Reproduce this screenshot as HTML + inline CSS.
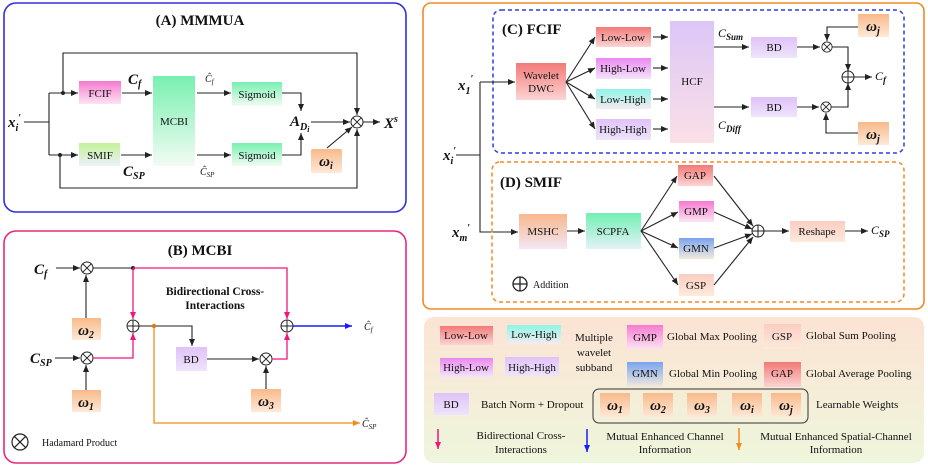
<!DOCTYPE html>
<html><head><meta charset="utf-8"><style>
html,body{margin:0;padding:0;background:#fff}
svg{display:block}
text{font-family:"Liberation Serif",serif;fill:#111}
.t{font-size:11px}
.b{font-weight:bold}
.w{font-weight:bold;font-style:italic;font-size:15px}
.ln{stroke:#222;stroke-width:1.1;fill:none}
</style></head><body>
<svg width="928" height="467" viewBox="0 0 928 467" xmlns="http://www.w3.org/2000/svg">
<defs>
<marker id="ar" markerWidth="8" markerHeight="8" refX="7" refY="4" orient="auto" markerUnits="userSpaceOnUse"><path d="M0,1 L7,4 L0,7 Z" fill="#222"/></marker>
<marker id="ap" markerWidth="8" markerHeight="8" refX="7" refY="4" orient="auto" markerUnits="userSpaceOnUse"><path d="M0,1 L7,4 L0,7 Z" fill="#f0157f"/></marker>
<marker id="ab" markerWidth="8" markerHeight="8" refX="7" refY="4" orient="auto" markerUnits="userSpaceOnUse"><path d="M0,1 L7,4 L0,7 Z" fill="#1a1aff"/></marker>
<marker id="ao" markerWidth="8" markerHeight="8" refX="7" refY="4" orient="auto" markerUnits="userSpaceOnUse"><path d="M0,1 L7,4 L0,7 Z" fill="#f58a1f"/></marker>
<linearGradient id="gPink" x1="0" y1="0" x2="0" y2="1"><stop offset="0" stop-color="#f57ad0"/><stop offset="1" stop-color="#fde3f3"/></linearGradient>
<linearGradient id="gGreen" x1="0" y1="0" x2="0" y2="1"><stop offset="0" stop-color="#78f0b0"/><stop offset="1" stop-color="#f3fbf4"/></linearGradient>
<linearGradient id="gLime" x1="0" y1="0" x2="0" y2="1"><stop offset="0" stop-color="#c2f296"/><stop offset="1" stop-color="#eef0fb"/></linearGradient>
<linearGradient id="gOr" x1="0" y1="0" x2="0" y2="1"><stop offset="0" stop-color="#f9b98a"/><stop offset="1" stop-color="#fde9d8"/></linearGradient>
<linearGradient id="gRed" x1="0" y1="0" x2="0" y2="1"><stop offset="0" stop-color="#f27a78"/><stop offset="1" stop-color="#fbd4d4"/></linearGradient>
<linearGradient id="gMag" x1="0" y1="0" x2="0" y2="1"><stop offset="0" stop-color="#ea88f0"/><stop offset="1" stop-color="#f3e4fb"/></linearGradient>
<linearGradient id="gCyan" x1="0" y1="0" x2="0" y2="1"><stop offset="0" stop-color="#8ef5e8"/><stop offset="1" stop-color="#f6eaf0"/></linearGradient>
<linearGradient id="gLav" x1="0" y1="0" x2="0" y2="1"><stop offset="0" stop-color="#e0c2f8"/><stop offset="1" stop-color="#eee4fb"/></linearGradient>
<linearGradient id="gHCF" x1="0" y1="0" x2="0" y2="1"><stop offset="0" stop-color="#dcc6f7"/><stop offset="1" stop-color="#fbe0e6"/></linearGradient>
<linearGradient id="gBlue" x1="0" y1="0" x2="0" y2="1"><stop offset="0" stop-color="#7aa4f0"/><stop offset="1" stop-color="#f3eadc"/></linearGradient>
<linearGradient id="gMSHC" x1="0" y1="0" x2="0" y2="1"><stop offset="0" stop-color="#f8b88e"/><stop offset="1" stop-color="#f3e6f3"/></linearGradient>
<linearGradient id="gSC" x1="0" y1="0" x2="0" y2="1"><stop offset="0" stop-color="#72f0b4"/><stop offset="1" stop-color="#e4f1f7"/></linearGradient>
<linearGradient id="gRes" x1="0" y1="0" x2="0" y2="1"><stop offset="0" stop-color="#fbcdc2"/><stop offset="1" stop-color="#fdeadb"/></linearGradient>
<linearGradient id="gLeg" x1="0" y1="0" x2="0" y2="1"><stop offset="0" stop-color="#fce3d4"/><stop offset="1" stop-color="#eef6dc"/></linearGradient>
<g id="otimes"><circle r="6" fill="#fff" stroke="#222" stroke-width="1"/><path d="M-4.2,-4.2L4.2,4.2M-4.2,4.2L4.2,-4.2" stroke="#222" stroke-width="1"/></g>
<g id="oplus"><circle r="6" fill="#fff" stroke="#222" stroke-width="1"/><path d="M-6,0H6M0,-6V6" stroke="#222" stroke-width="1"/></g>
</defs>

<!-- Panel A -->
<rect x="4" y="3" width="402" height="209" rx="12" fill="#fff" stroke="#2f2fe0" stroke-width="1.6"/>
<text x="200" y="25" text-anchor="middle" class="b" font-size="15">(A) MMMUA</text>
<text x="8" y="127" class="w">x<tspan font-size="10" dy="4">i</tspan><tspan dy="-10" font-size="10">′</tspan></text>
<path class="ln" d="M24,122H49M49,93V155M49,93H78" marker-end="url(#ar)"/>
<path class="ln" d="M49,155H78" marker-end="url(#ar)"/>
<circle cx="63" cy="93" r="2" fill="#222"/><circle cx="60" cy="155" r="2" fill="#222"/>
<path class="ln" d="M63,93V53H357V115" marker-end="url(#ar)"/>
<path class="ln" d="M60,155V188H357V129" marker-end="url(#ar)"/>
<rect x="79" y="81" width="42" height="23" fill="url(#gPink)"/><text x="100" y="97" text-anchor="middle" class="t">FCIF</text>
<rect x="79" y="143" width="41" height="23" fill="url(#gLime)"/><text x="100" y="159" text-anchor="middle" class="t">SMIF</text>
<text x="128" y="84" class="w">C<tspan font-size="10" dy="3">f</tspan></text>
<text x="123" y="176" class="w">C<tspan font-size="10" dy="3">SP</tspan></text>
<path class="ln" d="M122,93H152" marker-end="url(#ar)"/>
<path class="ln" d="M121,155H152" marker-end="url(#ar)"/>
<rect x="153" y="76" width="42" height="90" fill="url(#gGreen)"/><text x="174" y="125" text-anchor="middle" class="t">MCBI</text>
<text x="205" y="82" font-size="10" font-style="italic" fill="#555">Ĉ<tspan font-size="7" dy="2">f</tspan></text>
<text x="200" y="175" font-size="10" font-style="italic" fill="#555">Ĉ<tspan font-size="7" dy="2">SP</tspan></text>
<path class="ln" d="M197,93H231" marker-end="url(#ar)"/>
<path class="ln" d="M197,155H231" marker-end="url(#ar)"/>
<rect x="232" y="82" width="50" height="24" fill="url(#gGreen)"/><text x="257" y="98" text-anchor="middle" class="t">Sigmoid</text>
<rect x="232" y="143" width="50" height="23" fill="url(#gGreen)"/><text x="257" y="159" text-anchor="middle" class="t">Sigmoid</text>
<path class="ln" d="M282,93H301V111" marker-end="url(#ar)"/>
<path class="ln" d="M282,155H301V133" marker-end="url(#ar)"/>
<text x="290" y="126" class="w">A<tspan font-size="10" dy="4">D<tspan font-size="8" dy="2">i</tspan></tspan></text>
<path class="ln" d="M311,122H350" marker-end="url(#ar)"/>
<rect x="311" y="149" width="31" height="24" rx="2" fill="url(#gOr)"/><text x="326" y="166" text-anchor="middle" class="w">ω<tspan font-size="10" dy="3">i</tspan></text>
<path class="ln" d="M327,148L352,127" marker-end="url(#ar)"/>
<use href="#otimes" x="357" y="122"/>
<path class="ln" d="M363,122H380" marker-end="url(#ar)"/>
<text x="384" y="128" class="w">X<tspan font-size="10" dy="-6">s</tspan></text>

<!-- Panel B -->
<rect x="4" y="231" width="402" height="232" rx="12" fill="#fff" stroke="#e8287a" stroke-width="1.6"/>
<text x="200" y="255" text-anchor="middle" class="b" font-size="15">(B) MCBI</text>
<text x="34" y="274" class="w">C<tspan font-size="10" dy="3">f</tspan></text>
<text x="30" y="363" class="w">C<tspan font-size="10" dy="3">SP</tspan></text>
<path class="ln" d="M56,268H80" marker-end="url(#ar)"/>
<path class="ln" d="M55,358H80" marker-end="url(#ar)"/>
<use href="#otimes" x="87" y="268"/><use href="#otimes" x="87" y="358"/>
<path class="ln" d="M93,268H133"/>
<circle cx="133" cy="268" r="2" fill="#222"/>
<path d="M133,268H287V319" stroke="#f0157f" stroke-width="1.3" fill="none" marker-end="url(#ap)"/>
<path d="M133,268V319" stroke="#f0157f" stroke-width="1.3" fill="none" marker-end="url(#ap)"/>
<path d="M93,358H133V333" stroke="#f0157f" stroke-width="1.3" fill="none" marker-end="url(#ap)"/>
<rect x="72" y="318" width="29" height="22" fill="url(#gOr)"/><text x="86" y="335" text-anchor="middle" class="w">ω<tspan font-size="10" dy="3">2</tspan></text>
<rect x="72" y="390" width="29" height="22" fill="url(#gOr)"/><text x="86" y="407" text-anchor="middle" class="w">ω<tspan font-size="10" dy="3">1</tspan></text>
<path class="ln" d="M86,318V275" marker-end="url(#ar)"/>
<path class="ln" d="M86,390V365" marker-end="url(#ar)"/>
<use href="#oplus" x="133" y="326"/>
<path class="ln" d="M139,326H192V346" marker-end="url(#ar)"/>
<path d="M154,326V423H360" stroke="#f58a1f" stroke-width="1.3" fill="none" marker-end="url(#ao)"/>
<circle cx="154" cy="326" r="2.2" fill="#e07a10"/>
<rect x="176" y="347" width="31" height="24" fill="url(#gLav)"/><text x="191" y="363" text-anchor="middle" class="t" font-family="Liberation Sans">BD</text>
<path class="ln" d="M207,359H259" marker-end="url(#ar)"/>
<use href="#otimes" x="266" y="359"/>
<path d="M272,359H287V333" stroke="#f0157f" stroke-width="1.3" fill="none" marker-end="url(#ap)"/>
<rect x="251" y="389" width="30" height="23" fill="url(#gOr)"/><text x="266" y="406" text-anchor="middle" class="w">ω<tspan font-size="10" dy="3">3</tspan></text>
<path class="ln" d="M266,389V366" marker-end="url(#ar)"/>
<use href="#oplus" x="287" y="326"/>
<path d="M293,326H352" stroke="#1a1aff" stroke-width="1.5" fill="none" marker-end="url(#ab)"/>
<text x="364" y="330" font-size="10" font-style="italic" fill="#555">Ĉ<tspan font-size="7" dy="2">f</tspan></text>
<text x="362" y="427" font-size="10" font-style="italic" fill="#555">Ĉ<tspan font-size="7" dy="2">SP</tspan></text>
<text x="215" y="295" text-anchor="middle" class="b" font-size="11.5">Bidirectional Cross-</text>
<text x="215" y="309" text-anchor="middle" class="b" font-size="11.5">Interactions</text>
<circle cx="20" cy="442" r="8" fill="none" stroke="#222" stroke-width="1.2"/><path d="M14.3,436.3L25.7,447.7M14.3,447.7L25.7,436.3" stroke="#222" stroke-width="1.2"/>
<text x="42" y="446" font-size="10">Hadamard Product</text>

<!-- Right outer panel -->
<rect x="423" y="3" width="501" height="306" rx="8" fill="#fff" stroke="#f08a24" stroke-width="1.6"/>
<rect x="493" y="10" width="411" height="143" rx="8" fill="none" stroke="#2a3be8" stroke-width="1.5" stroke-dasharray="4,3"/>
<text x="502" y="34" class="b" font-size="15">(C) FCIF</text>
<text x="458" y="90" class="w">x<tspan font-size="10" dy="4">1</tspan><tspan font-size="10" dy="-12">′</tspan></text>
<text x="443" y="160" class="w">x<tspan font-size="10" dy="4">i</tspan><tspan font-size="10" dy="-10">′</tspan></text>
<text x="452" y="237" class="w">x<tspan font-size="10" dy="4">m</tspan><tspan font-size="10" dy="-10">′</tspan></text>
<path class="ln" d="M480,82H515" marker-end="url(#ar)"/>
<path class="ln" d="M456,155H480M480,82V232H518" marker-end="url(#ar)"/>
<rect x="516" y="63" width="50" height="37" fill="url(#gRed)"/>
<text x="541" y="79" text-anchor="middle" class="t">Wavelet</text><text x="541" y="92" text-anchor="middle" class="t">DWC</text>
<path class="ln" d="M566,82L595,37" marker-end="url(#ar)"/>
<path class="ln" d="M566,82L595,68" marker-end="url(#ar)"/>
<path class="ln" d="M566,82L595,99" marker-end="url(#ar)"/>
<path class="ln" d="M566,82L595,129" marker-end="url(#ar)"/>
<rect x="596" y="27" width="55" height="20" fill="url(#gRed)"/><text x="623" y="41" text-anchor="middle" class="t">Low-Low</text>
<rect x="596" y="58" width="55" height="21" fill="url(#gMag)"/><text x="623" y="72" text-anchor="middle" class="t">High-Low</text>
<rect x="596" y="89" width="55" height="20" fill="url(#gCyan)"/><text x="623" y="103" text-anchor="middle" class="t">Low-High</text>
<rect x="596" y="119" width="55" height="21" fill="url(#gLav)"/><text x="623" y="133" text-anchor="middle" class="t">High-High</text>
<path class="ln" d="M653,37H668" marker-end="url(#ar)"/>
<path class="ln" d="M653,68H668" marker-end="url(#ar)"/>
<path class="ln" d="M653,99H668" marker-end="url(#ar)"/>
<path class="ln" d="M653,129H668" marker-end="url(#ar)"/>
<rect x="670" y="21" width="44" height="122" fill="url(#gHCF)"/><text x="692" y="85" text-anchor="middle" class="t">HCF</text>
<text x="718" y="37" font-size="12" font-style="italic">C<tspan font-size="9" dy="3" font-weight="bold">Sum</tspan></text>
<text x="718" y="129" font-size="12" font-style="italic">C<tspan font-size="9" dy="3" font-weight="bold">Diff</tspan></text>
<path class="ln" d="M714,47H749" marker-end="url(#ar)"/>
<path class="ln" d="M714,107H749" marker-end="url(#ar)"/>
<rect x="751" y="37" width="46" height="21" fill="url(#gLav)"/><text x="774" y="51" text-anchor="middle" class="t">BD</text>
<rect x="751" y="97" width="46" height="20" fill="url(#gLav)"/><text x="774" y="111" text-anchor="middle" class="t">BD</text>
<path class="ln" d="M797,47H820" marker-end="url(#ar)"/>
<path class="ln" d="M797,107H819" marker-end="url(#ar)"/>
<g transform="translate(827,47) scale(0.85)"><use href="#otimes"/></g>
<g transform="translate(826,107) scale(0.85)"><use href="#otimes"/></g>
<rect x="858" y="14" width="31" height="23" fill="url(#gOr)"/><text x="873" y="31" text-anchor="middle" class="w">ω<tspan font-size="10" dy="3">j</tspan></text>
<rect x="858" y="122" width="31" height="23" fill="url(#gOr)"/><text x="873" y="139" text-anchor="middle" class="w">ω<tspan font-size="10" dy="3">j</tspan></text>
<path class="ln" d="M858,27H827V41" marker-end="url(#ar)"/>
<path class="ln" d="M858,133H826V113" marker-end="url(#ar)"/>
<path class="ln" d="M832,47H848V71" marker-end="url(#ar)"/>
<path class="ln" d="M831,107H848V83" marker-end="url(#ar)"/>
<use href="#oplus" x="848" y="77"/>
<path class="ln" d="M854,77H872" marker-end="url(#ar)"/>
<text x="875" y="80" font-size="12" font-style="italic">C<tspan font-size="9" dy="3" font-weight="bold">f</tspan></text>

<rect x="492" y="162" width="412" height="140" rx="8" fill="none" stroke="#f58a1f" stroke-width="1.5" stroke-dasharray="4,3"/>
<text x="500" y="187" class="b" font-size="15">(D) SMIF</text>
<rect x="519" y="214" width="48" height="35" fill="url(#gMSHC)"/><text x="543" y="235" text-anchor="middle" class="t">MSHC</text>
<path class="ln" d="M567,231H585" marker-end="url(#ar)"/>
<rect x="586" y="213" width="55" height="36" fill="url(#gSC)"/><text x="613" y="235" text-anchor="middle" class="t">SCPFA</text>
<path class="ln" d="M641,231L677,176" marker-end="url(#ar)"/>
<path class="ln" d="M641,231L678,212" marker-end="url(#ar)"/>
<path class="ln" d="M641,231L678,248" marker-end="url(#ar)"/>
<path class="ln" d="M641,231L678,285" marker-end="url(#ar)"/>
<rect x="678" y="165" width="35" height="21" fill="url(#gRed)"/><text x="695" y="179" text-anchor="middle" class="t">GAP</text>
<rect x="679" y="201" width="35" height="21" fill="url(#gPink)"/><text x="696" y="215" text-anchor="middle" class="t">GMP</text>
<rect x="679" y="238" width="35" height="21" fill="url(#gBlue)"/><text x="696" y="252" text-anchor="middle" class="t">GMN</text>
<rect x="679" y="274" width="35" height="22" fill="url(#gRes)"/><text x="696" y="289" text-anchor="middle" class="t">GSP</text>
<path class="ln" d="M714,176L753,226" marker-end="url(#ar)"/>
<path class="ln" d="M714,212L752,229" marker-end="url(#ar)"/>
<path class="ln" d="M714,248L752,234" marker-end="url(#ar)"/>
<path class="ln" d="M714,285L753,237" marker-end="url(#ar)"/>
<use href="#oplus" x="758" y="231"/>
<path class="ln" d="M764,231H789" marker-end="url(#ar)"/>
<rect x="790" y="221" width="55" height="21" fill="url(#gRes)"/><text x="817" y="235" text-anchor="middle" class="t">Reshape</text>
<path class="ln" d="M845,231H868" marker-end="url(#ar)"/>
<text x="871" y="234" font-size="12" font-style="italic">C<tspan font-size="9" dy="3" font-weight="bold">SP</tspan></text>
<circle cx="520" cy="284" r="7" fill="none" stroke="#222" stroke-width="1.3"/><path d="M513,284H527M520,277V291" stroke="#222" stroke-width="1.3"/>
<text x="533" y="288" font-size="10">Addition</text>

<!-- Legend -->
<rect x="424" y="317" width="500" height="146" rx="10" fill="url(#gLeg)"/>
<rect x="440" y="326" width="53" height="19" fill="url(#gRed)"/><text x="466" y="339" text-anchor="middle" class="t">Low-Low</text>
<rect x="507" y="325" width="54" height="19" fill="url(#gCyan)"/><text x="534" y="338" text-anchor="middle" class="t">Low-High</text>
<rect x="440" y="358" width="53" height="19" fill="url(#gMag)"/><text x="466" y="371" text-anchor="middle" class="t">High-Low</text>
<rect x="505" y="357" width="54" height="19" fill="url(#gLav)"/><text x="532" y="371" text-anchor="middle" class="t">High-High</text>
<text x="594" y="341" text-anchor="middle" class="t">Multiple</text>
<text x="594" y="356" text-anchor="middle" class="t">wavelet</text>
<text x="594" y="371" text-anchor="middle" class="t">subband</text>
<rect x="627" y="325" width="36" height="24" fill="url(#gPink)"/><text x="645" y="341" text-anchor="middle" class="t">GMP</text>
<text x="667" y="340" class="t">Global Max Pooling</text>
<rect x="764" y="324" width="37" height="25" fill="url(#gRes)"/><text x="782" y="340" text-anchor="middle" class="t">GSP</text>
<text x="806" y="339" class="t">Global Sum Pooling</text>
<rect x="627" y="362" width="36" height="25" fill="url(#gBlue)"/><text x="645" y="377" text-anchor="middle" class="t">GMN</text>
<text x="669" y="377" class="t">Global Min Pooling</text>
<rect x="764" y="362" width="37" height="25" fill="url(#gRed)"/><text x="782" y="377" text-anchor="middle" class="t">GAP</text>
<text x="806" y="377" class="t">Global Average Pooling</text>
<rect x="434" y="393" width="35" height="22" fill="url(#gLav)"/><text x="451" y="408" text-anchor="middle" class="t">BD</text>
<text x="481" y="408" class="t">Batch Norm + Dropout</text>
<rect x="593" y="389" width="215" height="34" rx="6" fill="none" stroke="#333" stroke-width="1"/>
<rect x="600" y="393" width="30" height="24" fill="url(#gOr)"/><text x="615" y="410" text-anchor="middle" class="w">ω<tspan font-size="10" dy="3">1</tspan></text>
<rect x="643" y="393" width="30" height="24" fill="url(#gOr)"/><text x="658" y="410" text-anchor="middle" class="w">ω<tspan font-size="10" dy="3">2</tspan></text>
<rect x="687" y="393" width="30" height="24" fill="url(#gOr)"/><text x="702" y="410" text-anchor="middle" class="w">ω<tspan font-size="10" dy="3">3</tspan></text>
<rect x="732" y="393" width="30" height="24" fill="url(#gOr)"/><text x="747" y="410" text-anchor="middle" class="w">ω<tspan font-size="10" dy="3">i</tspan></text>
<rect x="771" y="393" width="30" height="24" fill="url(#gOr)"/><text x="786" y="410" text-anchor="middle" class="w">ω<tspan font-size="10" dy="3">j</tspan></text>
<text x="816" y="408" class="t">Learnable Weights</text>
<path d="M438,429V449" stroke="#f0157f" stroke-width="1.5" fill="none" marker-end="url(#ap)"/>
<path d="M587,429V452" stroke="#1a1aff" stroke-width="1.5" fill="none" marker-end="url(#ab)"/>
<path d="M739,428V450" stroke="#f58a1f" stroke-width="1.5" fill="none" marker-end="url(#ao)"/>
<text x="521" y="439" text-anchor="middle" class="t">Bidirectional Cross-</text>
<text x="521" y="453" text-anchor="middle" class="t">Interactions</text>
<text x="665" y="440" text-anchor="middle" class="t">Mutual Enhanced Channel</text>
<text x="665" y="453" text-anchor="middle" class="t">Information</text>
<text x="836" y="440" text-anchor="middle" class="t">Mutual Enhanced Spatial-Channel</text>
<text x="836" y="453" text-anchor="middle" class="t">Information</text>
</svg>
</body></html>
